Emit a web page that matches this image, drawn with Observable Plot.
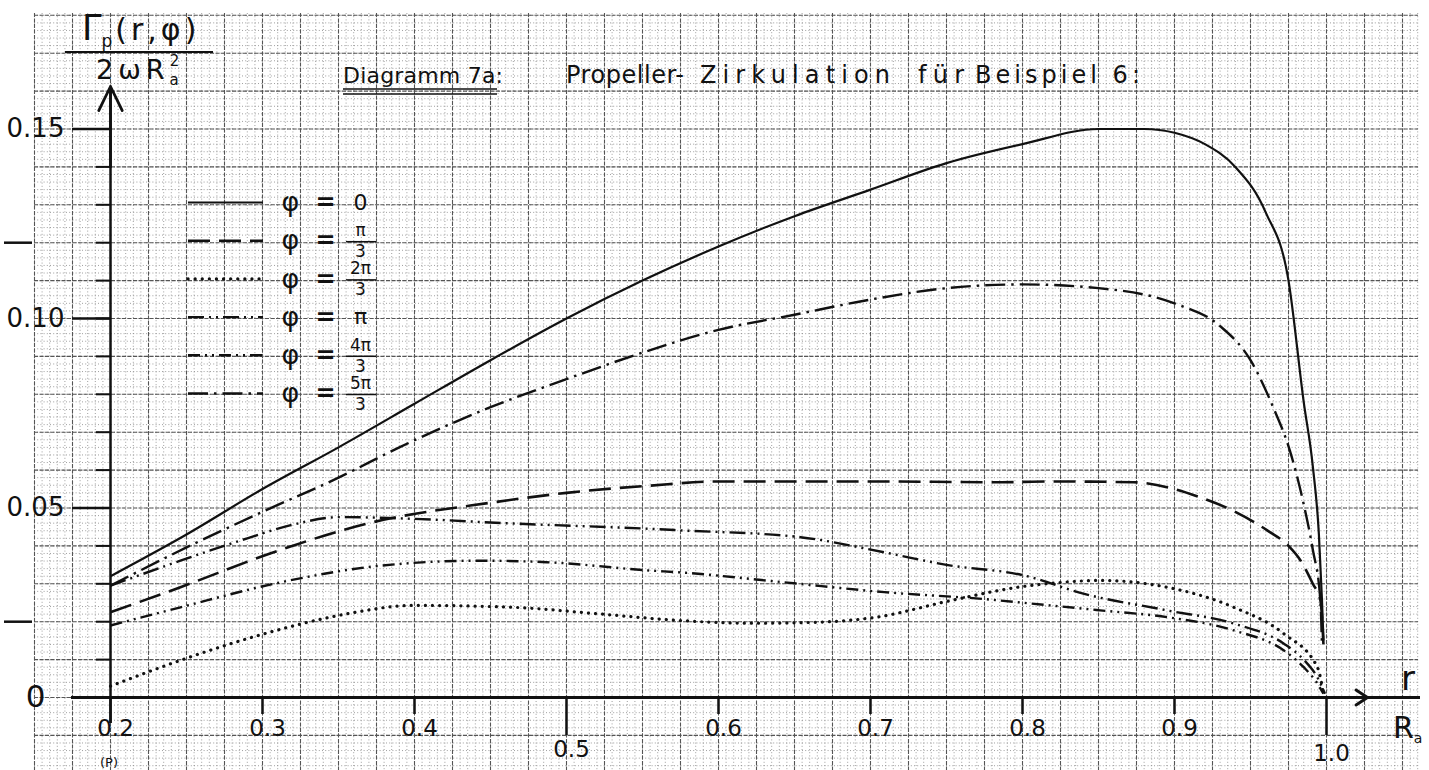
<!DOCTYPE html>
<html><head><meta charset="utf-8">
<script src="https://cdn.jsdelivr.net/npm/d3@7"></script>
<script src="https://cdn.jsdelivr.net/npm/@observablehq/plot@0.6"></script>
<style>body{margin:0;background:#fff;overflow:hidden} svg{display:block}</style>
</head><body><div id="chart"></div>
<script>
// ---------- data ----------
const phiLabels = ["0", "π/3", "2π/3", "π", "4π/3", "5π/3"];

const r_phi0 = [0.2, 0.25, 0.30, 0.35, 0.40, 0.45, 0.50, 0.55, 0.60, 0.65, 0.70, 0.75, 0.80, 0.85, 0.88, 0.90, 0.92, 0.94, 0.96, 0.975, 0.985, 0.991, 0.995, 0.997, 0.998];
const g_phi0 = [0.032, 0.043, 0.055, 0.066, 0.0775, 0.089, 0.100, 0.110, 0.119, 0.127, 0.134, 0.141, 0.146, 0.150, 0.150, 0.149, 0.146, 0.140, 0.128, 0.110, 0.078, 0.061, 0.043, 0.026, 0.015];

const r_phi1 = [0.2, 0.246, 0.305, 0.369, 0.452, 0.5, 0.555, 0.6, 0.7, 0.786, 0.818, 0.873, 0.9, 0.917, 0.94, 0.961, 0.975, 0.983, 0.991, 0.996, 0.998];
const g_phi1 = [0.0225, 0.0291, 0.038, 0.0459, 0.0515, 0.054, 0.0559, 0.057, 0.057, 0.0568, 0.057, 0.0568, 0.055, 0.0528, 0.049, 0.0441, 0.040, 0.0361, 0.030, 0.0256, 0.014];

const r_phi2 = [0.2, 0.246, 0.301, 0.356, 0.399, 0.465, 0.52, 0.575, 0.621, 0.66, 0.704, 0.753, 0.797, 0.83, 0.851, 0.895, 0.939, 0.972, 0.994, 0.998];
const g_phi2 = [0.003, 0.0098, 0.0168, 0.0221, 0.0243, 0.0238, 0.0221, 0.0203, 0.0196, 0.0198, 0.0212, 0.0256, 0.0291, 0.0305, 0.0309, 0.0291, 0.0238, 0.0168, 0.008, 0.001];

const r_phi3 = [0.2, 0.246, 0.29, 0.318, 0.351, 0.395, 0.465, 0.555, 0.575, 0.654, 0.709, 0.75, 0.801, 0.84, 0.895, 0.939, 0.972, 0.985, 0.994, 0.999];
const g_phi3 = [0.0295, 0.0361, 0.042, 0.0454, 0.0476, 0.0472, 0.0459, 0.0445, 0.0441, 0.0423, 0.0383, 0.035, 0.0322, 0.0274, 0.023, 0.0195, 0.0142, 0.010, 0.0053, 0.001];

const r_phi4 = [0.2, 0.246, 0.312, 0.378, 0.443, 0.487, 0.555, 0.575, 0.643, 0.709, 0.774, 0.818, 0.851, 0.895, 0.939, 0.972, 0.985, 0.994, 0.998];
const g_phi4 = [0.019, 0.0238, 0.0304, 0.0348, 0.0361, 0.0357, 0.0335, 0.033, 0.0304, 0.0278, 0.026, 0.0243, 0.023, 0.0212, 0.0177, 0.0124, 0.008, 0.0037, 0.001];

const r_phi5 = [0.2, 0.25, 0.3, 0.35, 0.39, 0.45, 0.5, 0.55, 0.6, 0.65, 0.7, 0.75, 0.8, 0.85, 0.9, 0.93, 0.95, 0.965, 0.976, 0.985, 0.991, 0.996, 0.997];
const g_phi5 = [0.0295, 0.0396, 0.049, 0.058, 0.066, 0.0766, 0.084, 0.091, 0.097, 0.101, 0.105, 0.108, 0.109, 0.108, 0.104, 0.098, 0.089, 0.0765, 0.065, 0.051, 0.039, 0.0256, 0.014];

const xTickValues = [0.2, 0.3, 0.4, 0.5, 0.6, 0.7, 0.8, 0.9, 1.0];
const xTickLabels = ["0.2", "0.3", "0.4", "0.5", "0.6", "0.7", "0.8", "0.9", "1.0"];
const yTickValues = [0, 0.05, 0.10, 0.15];
const yTickLabels = ["0", "0.05", "0.10", "0.15"];
const legendNum = ["0", "π", "2π", "π", "4π", "5π"];
const legendDen = ["", "3", "3", "", "3", "3"];
const titleWords = ["Diagramm 7a:", "Propeller-", "Zirkulation", "für", "Beispiel 6:"];

// ---------- build ----------
const W = 1429, H = 770;
const X0 = 110, XS = 1520, Y0 = 697, YS = 3790; // pixel calibration of the paper
const px2x = p => 0.2 + (p - X0) / XS;
const px2y = p => (Y0 - p) / YS;

const seriesR = [r_phi0, r_phi1, r_phi2, r_phi3, r_phi4, r_phi5];
const seriesG = [g_phi0, g_phi1, g_phi2, g_phi3, g_phi4, g_phi5];
const rows = phiLabels.flatMap((phi, k) => seriesR[k].map((r, i) => ({phi, r, g: seriesG[k][i]})));

const styles = {
  "0":    {dash: null, w: 2.2, cap: "butt"},
  "π/3":  {dash: "22,9", w: 2.6, cap: "butt"},
  "2π/3": {dash: "0.1,7", w: 3.2, cap: "round"},
  "π":    {dash: "16,5,2,5,2,5", w: 2.4, cap: "butt"},
  "4π/3": {dash: "12,5,2,5,2,5", w: 2.4, cap: "butt"},
  "5π/3": {dash: "20,6,2.5,6", w: 2.4, cap: "butt"}
};

const FONT = "DejaVu Sans";
const ink = "#111";

const marks = [];
// graph paper
marks.push(Plot.ruleX(d3.range(0.15, 1.0601, 0.005), {y1: px2y(13), y2: px2y(770), stroke: "#888", strokeWidth: 0.8, strokeDasharray: "1,2.2"}));
marks.push(Plot.ruleY(d3.range(-0.02, 0.1806, 0.002), {x1: px2x(34), x2: px2x(1418), stroke: "#888", strokeWidth: 0.8, strokeDasharray: "1,2.2"}));
marks.push(Plot.ruleX(d3.range(0.15, 1.0601, 0.025), {y1: px2y(13), y2: px2y(770), stroke: "#555", strokeWidth: 1.1, strokeDasharray: "4,1.5"}));
marks.push(Plot.ruleY(d3.range(-0.02, 0.1806, 0.01), {x1: px2x(34), x2: px2x(1418), stroke: "#555", strokeWidth: 1.1, strokeDasharray: "4,1.5"}));

// axes
marks.push(Plot.ruleY([0], {x1: px2x(71), x2: px2x(1420), stroke: ink, strokeWidth: 3}));
marks.push(Plot.ruleX([0.2], {y1: px2y(723), y2: px2y(90), stroke: ink, strokeWidth: 2.5}));
marks.push(Plot.arrow([0], {x1: 1.0, y1: 0, x2: px2x(1367), y2: 0, headLength: 30, headAngle: 66, stroke: ink, strokeWidth: 3}));
marks.push(Plot.arrow([0], {x1: 0.2, y1: 0.14, x2: 0.2, y2: px2y(86), headLength: 30, headAngle: 52, stroke: ink, strokeWidth: 2.8}));

// ticks
marks.push(Plot.ruleX(xTickValues, {y1: 0, y2: d => px2y(Y0 + (d === 0.5 || d === 1.0 ? 38 : d === 0.2 ? 26 : 17)), stroke: ink, strokeWidth: 2.5}));
marks.push(Plot.ruleY(yTickValues.filter(v => v > 0), {x1: px2x(72), x2: 0.2, stroke: ink, strokeWidth: 2.5}));
marks.push(Plot.ruleY(d3.range(0.01, 0.155, 0.01), {x1: px2x(96), x2: 0.2, stroke: ink, strokeWidth: 2}));
marks.push(Plot.ruleY([0.02, 0.12], {x1: px2x(4), x2: px2x(32), stroke: ink, strokeWidth: 2.5}));

// tick labels
marks.push(Plot.text(xTickValues, {
  x: d => d, y: d => px2y(d === 0.5 ? 749 : d === 1.0 ? 753 : 728), dx: 5,
  text: (d, i) => xTickLabels[i], fontSize: 23, fontFamily: FONT, fill: ink
}));
marks.push(Plot.text(yTickValues, {
  x: px2x(35), y: d => d, text: (d, i) => yTickLabels[i], fontSize: d => d === 0 ? 31 : 26, fontFamily: FONT, fill: ink
}));

// curves
phiLabels.forEach(phi => {
  const s = styles[phi];
  marks.push(Plot.line(rows.filter(d => d.phi === phi), {
    x: "r", y: "g", curve: "monotone-x", stroke: ink, strokeWidth: s.w,
    strokeDasharray: s.dash, strokeLinecap: s.cap
  }));
});

// legend
const legendRowsPx = phiLabels.map((_, i) => 202 + i * 38.2);
phiLabels.forEach((phi, i) => {
  const s = styles[phi];
  const yy = px2y(legendRowsPx[i]);
  marks.push(Plot.ruleY([yy], {x1: px2x(188), x2: px2x(263), stroke: ink, strokeWidth: s.w, strokeDasharray: s.dash, strokeLinecap: s.cap}));
});
marks.push(Plot.text(phiLabels, {x: px2x(290), y: (d, i) => px2y(legendRowsPx[i]), text: () => "φ", fontSize: 27, fontFamily: FONT, fill: ink}));
marks.push(Plot.text(phiLabels, {x: px2x(325), y: (d, i) => px2y(legendRowsPx[i]), text: () => "=", fontSize: 24, fontFamily: FONT, fontWeight: "bold", fill: ink}));
marks.push(Plot.text(phiLabels, {x: px2x(360), y: (d, i) => px2y(legendRowsPx[i] + (legendDen[i] ? -10 : 0)), text: (d, i) => legendNum[i], fontSize: (d, i) => legendDen[i] ? 17 : 22, fontFamily: FONT, fill: ink}));
marks.push(Plot.text(phiLabels.filter((d, i) => legendDen[i]), {x: px2x(360), y: d => px2y(legendRowsPx[phiLabels.indexOf(d)] + 11), text: d => legendDen[phiLabels.indexOf(d)], fontSize: 17, fontFamily: FONT, fill: ink}));
marks.push(Plot.ruleY(phiLabels.filter((d, i) => legendDen[i]), {y: d => px2y(legendRowsPx[phiLabels.indexOf(d)] + 1), x1: px2x(346), x2: px2x(376), stroke: ink, strokeWidth: 1.5}));

const plot = Plot.plot({
  width: W, height: H, margin: 0,
  x: {domain: [px2x(0), px2x(W)], range: [0, W], axis: null},
  y: {domain: [px2y(H), px2y(0)], range: [H, 0], axis: null},
  style: {background: "#fff", overflow: "visible"},
  marks
});
document.getElementById("chart").append(plot);

// ---------- annotations with sub/superscripts ----------
const svg = d3.select(plot);
const g = svg.append("g").attr("font-family", FONT).attr("fill", ink).attr("text-anchor", "start");

// y-axis quantity label (fraction)
const num = g.append("text").attr("x", 82).attr("y", 40);
num.append("tspan").attr("font-size", 35).text("Γ");
num.append("tspan").attr("font-size", 17).attr("dy", 7).text("p");
num.append("tspan").attr("font-size", 30).attr("dy", -7).attr("dx", 3).attr("letter-spacing", 4).text("(r,φ)");
g.append("line").attr("x1", 65).attr("x2", 213).attr("y1", 52).attr("y2", 52).attr("stroke", ink).attr("stroke-width", 2.2);
const den = g.append("text").attr("x", 96).attr("y", 79);
den.append("tspan").attr("font-size", 27).attr("letter-spacing", 5).text("2ωR");
den.append("tspan").attr("font-size", 15).attr("dy", 6).text("a");
den.append("tspan").attr("font-size", 15).attr("dy", -19).attr("dx", -9).text("2");

// title, in the hand-lettered spacing of the original
const titleX = [343, 566, 700, 918, 975];
const titleLen = [160, 118, 190, 46, 165];
titleWords.forEach((w, i) => {
  g.append("text").attr("x", titleX[i]).attr("y", 83).attr("font-size", i === 0 ? 22 : 24)
    .attr("textLength", titleLen[i]).attr("lengthAdjust", "spacing").text(w);
});
g.append("line").attr("x1", 343).attr("x2", 497).attr("y1", 89).attr("y2", 89).attr("stroke", ink).attr("stroke-width", 1.6);
g.append("line").attr("x1", 343).attr("x2", 497).attr("y1", 94).attr("y2", 94).attr("stroke", ink).attr("stroke-width", 1.6);

// x-axis quantity label r / R_a
g.append("text").attr("x", 1408).attr("y", 690).attr("font-size", 34).attr("text-anchor", "middle").text("r");
const ra = g.append("text").attr("x", 1393).attr("y", 738).attr("font-size", 30);
ra.append("tspan").text("R");
ra.append("tspan").attr("font-size", 14).attr("dy", 5).text("a");

// partially cut mark at the bottom
g.append("text").attr("x", 100).attr("y", 767).attr("font-size", 13).text("(P)");
</script>
</body></html>
